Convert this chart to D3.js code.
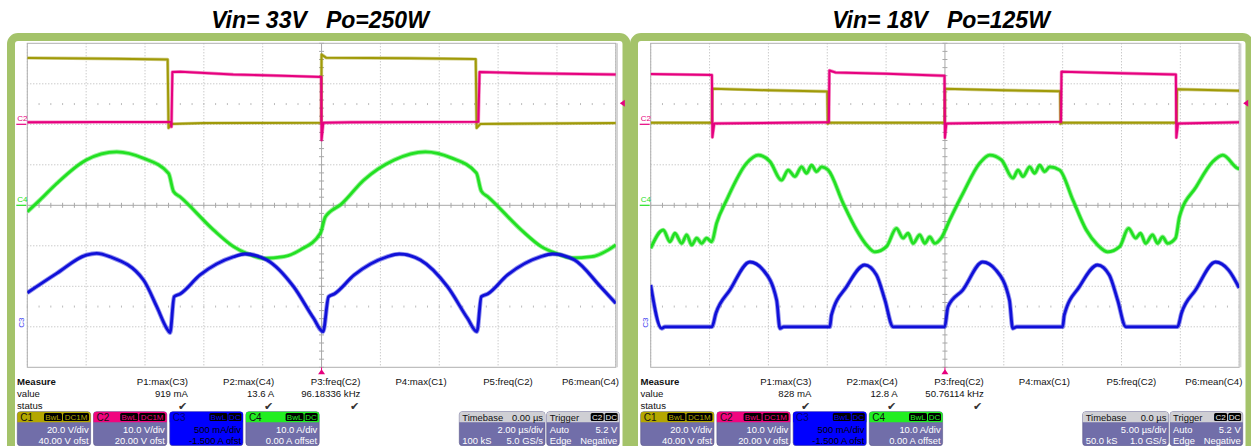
<!DOCTYPE html>
<meta charset="utf-8">
<style>
body { margin: 0; background: #fff; }
text { font-family: "Liberation Sans", Arial, sans-serif; }
.title { font-size: 23px; font-weight: bold; font-style: italic; white-space: pre; }
.meas { font-size: 9.6px; fill: #111; }
.box { font-size: 9.4px; }
</style>
<svg id="scope" width="1251" height="446"></svg>
<script src="https://d3js.org/d3.v7.min.js"></script>
<script>

var titles = ["Vin= 33V   Po=250W", "Vin= 18V   Po=125W"];
var timebase = [2, 5];              // µs/div
var chName = ["C1", "C2", "C3", "C4"];
var chScale = [20, 10, 0.5, 10];    // units/div
var chOffset = [40, 20, -1.5, 0];
var chDivText = ["20.0 V/div", "10.0 V/div", "500 mA/div", "10.0 A/div"];
var chOfstText = ["40.00 V ofst", "20.00 V ofst", "-1.500 A ofst", "0.00 A offset"];
var chTags = [["BwL", "DC1M"], ["BwL", "DC1M"], ["BwL", "DC"], ["BwL", "DC"]];
var measNames = ["P1:max(C3)", "P2:max(C4)", "P3:freq(C2)", "P4:max(C1)", "P5:freq(C2)", "P6:mean(C4)"];
var measLeft = ["919 mA", "13.6 A", "96.18336 kHz", "", "", ""];
var measRight = ["828 mA", "12.8 A", "50.76114 kHz", "", "", ""];
var measStatus = [true, true, true, false, false, false];
var tbLeft = ["0.00 µs", "2.00 µs/div", "100 kS", "5.0 GS/s"];
var tbRight = ["0.0 µs", "5.00 µs/div", "50.0 kS", "1.0 GS/s"];
var trigText = ["Auto", "5.2 V", "Edge", "Negative"];
var trigLevel = 5.2; // V on C2

// [time µs, value]
var leftC1 = [[-10,32.8],[-7,32.4],[-5.23,32.0],[-5.2,-1.8],[-5.1,0.2],[-4,0.6],[-0.01,0.8],[0,34.5],[0.15,32.9],[3,32.6],[5.24,32.2],[5.27,-1.8],[5.4,0.2],[10,0.6]];
var leftC2 = [[-10,0.5],[-5.12,0.6],[-5.1,-0.6],[-5.07,12.9],[-4.8,13.0],[-3,12.3],[-1,11.9],[-0.01,11.7],[0,-3.9],[0.06,0.4],[1,0.5],[5.33,0.6],[5.37,12.9],[7,12.6],[10,12.3]];
var leftC3 = [[-10,0.42],[-9.0,0.66],[-8.0,0.886],[-7.64,0.907],[-7.19,0.865],[-6.05,0.578],[-5.6,0.248],[-5.26,-0.02],[-5.15,-0.073],[-5.01,0.372],[-4.81,0.405],[-4.13,0.64],[-2.99,0.865],[-2.6,0.899],[-1.86,0.825],[-0.95,0.495],[-0.27,0.105],[0.05,-0.06],[0.24,0.372],[0.43,0.405],[1.11,0.64],[2.23,0.865],[2.64,0.899],[3.36,0.825],[4.28,0.495],[4.96,0.105],[5.28,-0.06],[5.43,0.372],[5.64,0.405],[6.32,0.64],[7.44,0.865],[7.85,0.899],[8.6,0.825],[9.48,0.495],[10,0.29]];
var leftC4 = [[-10,-1.6],[-9.57,1.3],[-9.0,5.4],[-8.0,11.2],[-6.96,13.2],[-6.05,11.6],[-5.2,7.9],[-5.03,3.4],[-4.81,2.1],[-3.67,-6.1],[-2.99,-10.2],[-2.54,-11.9],[-1.97,-13.1],[-1.29,-12.7],[-0.72,-11.0],[-0.04,-6.9],[0.12,-3.0],[0.24,-1.9],[0.64,0.1],[1.43,6.2],[2.47,11.2],[3.53,13.2],[4.41,11.7],[5.26,8.0],[5.43,3.5],[5.67,2.0],[6.79,-6.1],[7.47,-10.2],[7.95,-11.8],[8.49,-13.0],[9.17,-12.7],[9.75,-11.0],[10,-9.8]];

var rightC1 = [[-25,0.8],[-19.8,0.8],[-19.76,17.6],[-15,16.8],[-10.0,16.2],[-9.96,0.3],[-9.8,0.8],[-0.03,0.8],[0.01,17.5],[5,16.8],[9.78,16.3],[9.82,0.3],[10,0.8],[19.68,0.8],[19.72,17.3],[25,16.6]];
var rightC2 = [[-25,12.4],[-19.8,12.2],[-19.76,-3.2],[-19.6,0.2],[-10.0,0.5],[-9.86,0.5],[-9.82,13.3],[-9.3,12.8],[-5,12.5],[-0.04,12.0],[0,-3.3],[0.12,0.2],[9.86,0.6],[9.9,13.0],[15,12.6],[19.62,12.3],[19.66,-3.3],[19.8,0.2],[25,0.5]];
var rightC3 = [[-25,0.516],[-24.07,-0.02],[-23.79,0],[-19.8,0],[-19.46,0.167],[-18.27,0.454],[-16.57,0.8],[-15.44,0.7],[-14.3,0.33],[-14.02,-0.02],[-13.7,0],[-9.78,0],[-9.64,0.146],[-8.36,0.495],[-6.81,0.763],[-5.82,0.64],[-5.1,0.33],[-4.41,0],[-0.02,0],[0.26,0.248],[1.51,0.454],[3.21,0.8],[4.34,0.7],[5.48,0.33],[5.76,-0.02],[6.1,0],[10.0,0],[10.14,0.146],[11.42,0.495],[12.97,0.763],[13.96,0.64],[14.67,0.33],[15.37,0],[19.76,0],[20.1,0.17],[21.29,0.454],[22.99,0.8],[24.1,0.7],[25,0.48]];
var rightC4 = [[-25,-10.6],[-23.93,-6.1],[-23.36,-9.0],[-22.94,-6.9],[-22.37,-9.4],[-21.94,-7.3],[-21.52,-9.8],[-21.09,-8.1],[-20.67,-9.4],[-20.25,-8.1],[-19.82,-9.0],[-19.4,-4.4],[-18.55,1.3],[-16.85,10.4],[-15.87,12.4],[-14.87,10.8],[-13.88,6.2],[-13.32,8.7],[-12.75,7.1],[-12.18,9.5],[-11.76,7.9],[-11.33,9.9],[-10.91,8.3],[-10.48,9.5],[-9.92,8.7],[-8.65,0.5],[-7.51,-6.1],[-6.66,-9.8],[-5.96,-11.5],[-4.97,-10.2],[-4.12,-5.7],[-3.56,-8.1],[-3.13,-6.9],[-2.71,-9.4],[-2.14,-7.3],[-1.71,-9.4],[-1.29,-7.8],[-0.87,-9.4],[-0.3,-8.0],[0.41,-3.6],[1.54,3.0],[2.95,10.4],[3.8,12.4],[4.8,11.2],[5.78,6.7],[6.21,8.7],[6.63,7.1],[7.2,9.5],[7.62,7.9],[8.05,9.9],[8.47,8.3],[8.9,9.5],[9.75,8.7],[10.87,1.3],[12.01,-6.1],[12.97,-9.8],[13.82,-11.5],[14.84,-10.2],[15.6,-5.7],[16.2,-8.1],[16.62,-6.9],[17.05,-9.4],[17.64,-7.3],[18.07,-9.4],[18.49,-7.8],[18.91,-9.4],[19.59,-8.1],[19.93,-2.8],[21.35,4.6],[22.76,10.8],[23.61,12.4],[24.88,9.1],[25,9.0]];

var traceColor = ["#a09a08", "#e6007e", "#1010d8", "#22e022"];
var headColor = ["#b4a700", "#f0057f", "#0000ff", "#22ee22"];
var frameGreen = "#a4c36a";
var boxBody = "#716ea9";

var panels = [
  { title: titles[0], tb: timebase[0], traces: [leftC1, leftC2, leftC3, leftC4], meas: measLeft, tbText: tbLeft },
  { title: titles[1], tb: timebase[1], traces: [rightC1, rightC2, rightC3, rightC4], meas: measRight, tbText: tbRight }
];

var svg = d3.select("#scope");
var GX = [27.3, 650.7], GY = 43.3, GW = 588.5, GH = 324;
var DX = [0, 623.4];
var tagW = { BwL: 18, DC1M: 26, DC: 13, C2: 13 };

// frames
panels.forEach(function(p, k) {
  svg.append("rect")
    .attr("x", 11 + k * 623).attr("y", 37)
    .attr("width", 615.5).attr("height", 440).attr("rx", 7)
    .attr("fill", "#fff").attr("stroke", frameGreen).attr("stroke-width", 8);
});

panels.forEach(function(p, k) {
  var gx = GX[k], dx = DX[k];
  var g = svg.append("g");

  g.append("text").attr("class", "title")
    .attr("x", 320 + k * 621).attr("y", 28).attr("text-anchor", "middle")
    .text(p.title);

  var x = d3.scaleLinear().domain([-5 * p.tb, 5 * p.tb]).range([gx, gx + GW]);
  var yDiv = d3.scaleLinear().domain([-4, 4]).range([GY + GH, GY]);
  function chY(ch) { return function(v) { return yDiv((v + chOffset[ch]) / chScale[ch]); }; }

  // grid
  var grid = g.append("g");
  grid.selectAll(".vg").data(x.ticks(10).filter(function(d) { return d !== 0; }))
    .enter().append("line")
      .attr("x1", function(d) { return x(d); }).attr("x2", function(d) { return x(d); })
      .attr("y1", GY).attr("y2", GY + GH)
      .attr("stroke", "#b4b4b4").attr("stroke-dasharray", "1,2");
  grid.selectAll(".hg").data(d3.range(-3, 4).filter(function(d) { return d !== 0; }))
    .enter().append("line")
      .attr("y1", function(d) { return yDiv(d); }).attr("y2", function(d) { return yDiv(d); })
      .attr("x1", gx).attr("x2", gx + GW)
      .attr("stroke", "#b4b4b4").attr("stroke-dasharray", "1,2");
  grid.append("line").attr("x1", x(0)).attr("x2", x(0)).attr("y1", GY).attr("y2", GY + GH).attr("stroke", "#a8a8a8");
  grid.append("line").attr("x1", gx).attr("x2", gx + GW).attr("y1", yDiv(0)).attr("y2", yDiv(0)).attr("stroke", "#a8a8a8");
  var minorX = d3.range(-25, 26).map(function(d) { return d * 0.2 * p.tb; });
  var minorY = d3.range(-20, 21).map(function(d) { return d * 0.2; });
  grid.selectAll(".tx").data(minorX).enter().append("line")
    .attr("x1", function(d) { return x(d); }).attr("x2", function(d) { return x(d); })
    .attr("y1", yDiv(0) - 2.5).attr("y2", yDiv(0) + 2.5).attr("stroke", "#a8a8a8");
  grid.selectAll(".ty").data(minorY).enter().append("line")
    .attr("y1", function(d) { return yDiv(d); }).attr("y2", function(d) { return yDiv(d); })
    .attr("x1", x(0) - 2.5).attr("x2", x(0) + 2.5).attr("stroke", "#a8a8a8");
  [-2.5, 2.5].forEach(function(r) {
    grid.selectAll(null).data(minorX).enter().append("line")
      .attr("x1", function(d) { return x(d); }).attr("x2", function(d) { return x(d); })
      .attr("y1", yDiv(r) - 1).attr("y2", yDiv(r) + 1).attr("stroke", "#bbbbbb");
  });
  grid.append("rect").attr("x", gx).attr("y", GY).attr("width", GW).attr("height", GH)
    .attr("fill", "none").attr("stroke", "#b0b0b0");
  grid.append("line").attr("x1", gx + GW + 1.2).attr("x2", gx + GW + 1.2).attr("y1", GY).attr("y2", GY + GH)
    .attr("stroke", "#d4d4d4").attr("stroke-width", 2);

  // traces
  var clipId = "clip" + k;
  g.append("clipPath").attr("id", clipId).append("rect")
    .attr("x", gx).attr("y", GY - 2).attr("width", GW).attr("height", GH + 4);
  var tg = g.append("g").attr("clip-path", "url(#" + clipId + ")");
  [0, 1, 3, 2].forEach(function(ch) {
    var yy = chY(ch);
    var line = d3.line()
      .x(function(d) { return x(d[0]); })
      .y(function(d) { return yy(d[1]); })
      .curve(ch >= 2 ? d3.curveMonotoneX : d3.curveLinear);
    tg.append("path").datum(p.traces[ch]).attr("d", line)
      .attr("fill", "none").attr("stroke", traceColor[ch])
      .attr("stroke-width", ch >= 2 ? 4.6 : 3.4).attr("stroke-opacity", 0.45)
      .attr("stroke-linejoin", "round");
    tg.append("path").datum(p.traces[ch]).attr("d", line)
      .attr("fill", "none").attr("stroke", traceColor[ch])
      .attr("stroke-width", ch >= 2 ? 2.8 : 2)
      .attr("stroke-linejoin", "round");
  });

  // channel ground markers
  [1, 3].forEach(function(ch) {
    var y0 = chY(ch)(0);
    g.append("text").attr("x", gx - 10).attr("y", y0 - 3)
      .attr("font-size", 8).attr("fill", traceColor[ch]).text(chName[ch]);
    g.append("line").attr("x1", gx - 11).attr("x2", gx - 1).attr("y1", y0).attr("y2", y0)
      .attr("stroke", traceColor[ch]).attr("stroke-width", 1.2);
  });
  var y3 = chY(2)(0);
  g.append("text").attr("transform", "translate(" + (gx - 3) + "," + (y3 + 1) + ") rotate(-90)")
    .attr("font-size", 8).attr("fill", "#3c3cf0").text(chName[2]);

  // trigger markers
  var tx0 = x(0), ty0 = GY + GH;
  g.append("line").attr("x1", tx0).attr("x2", tx0).attr("y1", ty0).attr("y2", ty0 + 4).attr("stroke", "#e6007e");
  g.append("path").attr("d", "M" + tx0 + "," + (ty0 + 2) + "l-3.5,5h7z").attr("fill", "#e6007e");
  var tly = chY(1)(trigLevel);
  g.append("path").attr("d", "M" + (gx + GW + 4) + "," + tly + "l5,-3.5v7z").attr("fill", "#e6007e");

  // measure table
  var mg = g.append("g").attr("class", "meas");
  mg.append("text").attr("x", 17 + dx).attr("y", 385).attr("font-weight", "bold").text("Measure");
  mg.append("text").attr("x", 17 + dx).attr("y", 397).text("value");
  mg.append("text").attr("x", 17 + dx).attr("y", 409).text("status");
  measNames.forEach(function(m, i) {
    var cx = 188 + dx + i * 86.2;
    mg.append("text").attr("x", cx).attr("y", 385).attr("text-anchor", "end").text(m);
    if (p.meas[i]) mg.append("text").attr("x", cx).attr("y", 397).attr("text-anchor", "end").text(p.meas[i]);
    if (measStatus[i]) mg.append("text").attr("x", cx - 1.5).attr("y", 409.5).attr("text-anchor", "end")
      .attr("font-family", "DejaVu Sans").attr("font-size", 10.5).attr("fill", "#333").text("\u2714");
  });

  // channel boxes
  var by = 411.7, bh = 34, hh = 10.5, bw = 73.3;
  chName.forEach(function(c, i) {
    var bx = 17.3 + dx + i * 76.2;
    var bg = g.append("g").attr("class", "box");
    bg.append("rect").attr("x", bx).attr("y", by).attr("width", bw).attr("height", bh).attr("rx", 3)
      .attr("fill", i === 2 ? headColor[2] : boxBody).attr("stroke", "#5a588a").attr("stroke-width", 0.6);
    bg.append("path")
      .attr("d", "M" + bx + "," + (by + hh) + "V" + (by + 3) + "q0,-3 3,-3H" + (bx + bw - 3) + "q3,0 3,3V" + (by + hh) + "z")
      .attr("fill", headColor[i]);
    bg.append("text").attr("x", bx + 3).attr("y", by + 8.8).attr("font-size", 10)
      .attr("fill", i === 2 ? "#000070" : "#111").text(c);
    var right = bx + bw - 1.6;
    chTags[i].slice().reverse().forEach(function(t) {
      var w = tagW[t];
      bg.append("rect").attr("x", right - w).attr("y", by + 1.3).attr("width", w).attr("height", 8)
        .attr("rx", 1.5).attr("fill", "#000");
      bg.append("text").attr("x", right - w / 2).attr("y", by + 8.3).attr("text-anchor", "middle")
        .attr("font-size", 8).attr("fill", headColor[i]).text(t);
      right -= w + 1;
    });
    var tc = i === 2 ? "#000" : "#fff";
    bg.append("text").attr("x", bx + bw - 2).attr("y", by + 21.5).attr("text-anchor", "end").attr("fill", tc).text(chDivText[i]);
    bg.append("text").attr("x", bx + bw - 2).attr("y", by + 32).attr("text-anchor", "end").attr("fill", tc).text(chOfstText[i]);
  });

  // timebase & trigger boxes
  function infoBox(bx, w, head, headRight, tags, l1, r1, l2, r2) {
    var bg = g.append("g").attr("class", "box");
    bg.append("rect").attr("x", bx).attr("y", by).attr("width", w).attr("height", bh).attr("rx", 3)
      .attr("fill", boxBody).attr("stroke", "#5a588a").attr("stroke-width", 0.6);
    bg.append("path")
      .attr("d", "M" + bx + "," + (by + hh) + "V" + (by + 3) + "q0,-3 3,-3H" + (bx + w - 3) + "q3,0 3,3V" + (by + hh) + "z")
      .attr("fill", "#cfcfd4");
    bg.append("text").attr("x", bx + 3).attr("y", by + 8.8).attr("fill", "#111").text(head);
    if (headRight) bg.append("text").attr("x", bx + w - 2).attr("y", by + 8.8).attr("text-anchor", "end").attr("fill", "#111").text(headRight);
    var right = bx + w - 1.6;
    tags.slice().reverse().forEach(function(t) {
      var tw = tagW[t];
      bg.append("rect").attr("x", right - tw).attr("y", by + 1.3).attr("width", tw).attr("height", 8).attr("rx", 1.5).attr("fill", "#000");
      bg.append("text").attr("x", right - tw / 2).attr("y", by + 8.3).attr("text-anchor", "middle")
        .attr("font-size", 8).attr("fill", "#eee").text(t);
      right -= tw + 1;
    });
    if (l1) bg.append("text").attr("x", bx + 3).attr("y", by + 21.5).attr("fill", "#fff").text(l1);
    bg.append("text").attr("x", bx + w - 2).attr("y", by + 21.5).attr("text-anchor", "end").attr("fill", "#fff").text(r1);
    bg.append("text").attr("x", bx + 3).attr("y", by + 32).attr("fill", "#fff").text(l2);
    bg.append("text").attr("x", bx + w - 2).attr("y", by + 32).attr("text-anchor", "end").attr("fill", "#fff").text(r2);
  }
  infoBox(459.3 + dx, 85.7, "Timebase", p.tbText[0], [], "", p.tbText[1], p.tbText[2], p.tbText[3]);
  infoBox(546.7 + dx, 72.6, "Trigger", "", ["C2", "DC"], trigText[0], trigText[1], trigText[2], trigText[3]);
});

</script>
